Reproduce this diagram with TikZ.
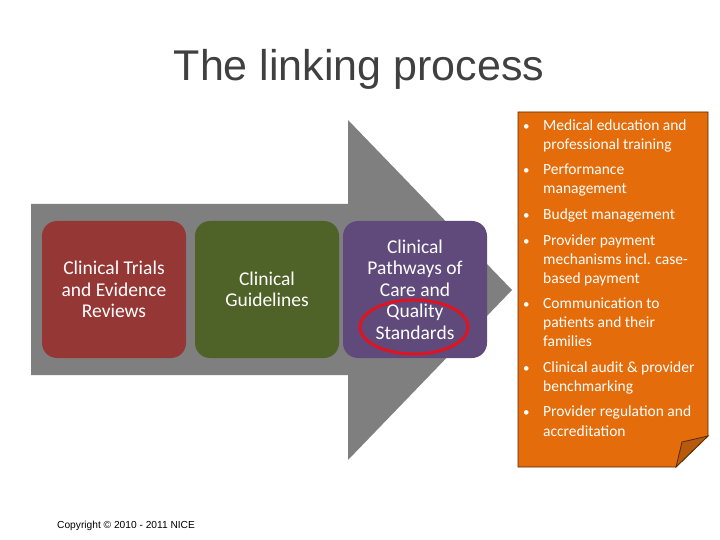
\documentclass[tikz,border=0pt]{standalone}
\usepackage{fontspec}
\setmainfont{Carlito}
\newfontfamily\arialf{Liberation Sans}
\definecolor{arrowgray}{HTML}{7F7F7F}
\definecolor{boxred}{HTML}{953735}
\definecolor{boxgreen}{HTML}{4F6228}
\definecolor{boxpurple}{HTML}{604A7B}
\definecolor{noteorange}{HTML}{E46C0A}
\definecolor{foldorange}{HTML}{B65A0E}
\definecolor{noteedge}{HTML}{5A2A00}
\definecolor{ringred}{HTML}{E0141E}
\definecolor{titlegray}{HTML}{404040}
\tikzset{
  stage/.style={rounded corners=15pt, minimum width=144pt, minimum height=137pt,
    align=center, text=white, font=\fontsize{19.5}{21.5}\selectfont, inner sep=0pt},
  itemline/.style={anchor=base west, text=white, font=\fontsize{15.5}{19}\selectfont, inner sep=0pt},
  bulletmark/.style={anchor=base west, text=white, font=\fontsize{13}{19}\selectfont, inner sep=0pt}
}
\begin{document}
\begin{tikzpicture}[x=1pt,y=-1pt]
\useasboundingbox[fill=white] (0,0) rectangle (720,540);
% title
\node[anchor=base, text=titlegray, font=\arialf\fontsize{43}{48}\selectfont, inner sep=0pt] (title) at (359,81) {The linking process};
% big arrow
\fill[arrowgray] (31,204) -- (348,204) -- (348,120) -- (512,290) -- (348,460) -- (348,375) -- (31,375) -- cycle;
% stages
\node[stage, fill=boxred] (trials) at (114,289.5) {Clinical Trials\\and Evidence\\Reviews};
\node[stage, fill=boxgreen] (guide) at (267,289.5) {Clinical\\Guidelines};
\node[stage, fill=boxpurple] (path) at (415,289.5) {Clinical\\Pathways of\\Care and\\Quality\\Standards};
% red ring
\draw[ringred, line width=3pt] (414,327) ellipse [x radius=54, y radius=27];
% note
\filldraw[fill=noteorange, draw=noteedge, line width=0.8pt] (518,112) -- (708,112) -- (708,436) -- (676,467) -- (518,467) -- cycle;
\filldraw[fill=foldorange, draw=noteedge, line width=0.8pt] (676,467) -- (682,442) -- (708,436) -- cycle;
\foreach \n/\y/\t in {1/131/Medical education and, 2/150/professional training,
  3/175/Performance, 4/194/management, 5/219/Budget management,
  6/245/Provider payment, 7/264/mechanisms incl. case-, 8/283/based payment,
  9/308/Communication to, 10/327/patients and their, 11/346/families,
  12/372/Clinical audit \& provider, 13/391/benchmarking,
  14/416/Provider regulation and, 15/436/accreditation}
  \node[itemline] (line\n) at (543,\y) {\t};
\foreach \n/\y in {1/131, 2/175, 3/219, 4/245, 5/308, 6/372, 7/416}
  \node[bulletmark] (bul\n) at (523,\y) {•};
% copyright
\node[anchor=base west, inner sep=0pt, font=\arialf\fontsize{10.2}{12}\selectfont] (copy) at (57,528) {Copyright © 2010 - 2011 NICE};
\end{tikzpicture}
\end{document}
